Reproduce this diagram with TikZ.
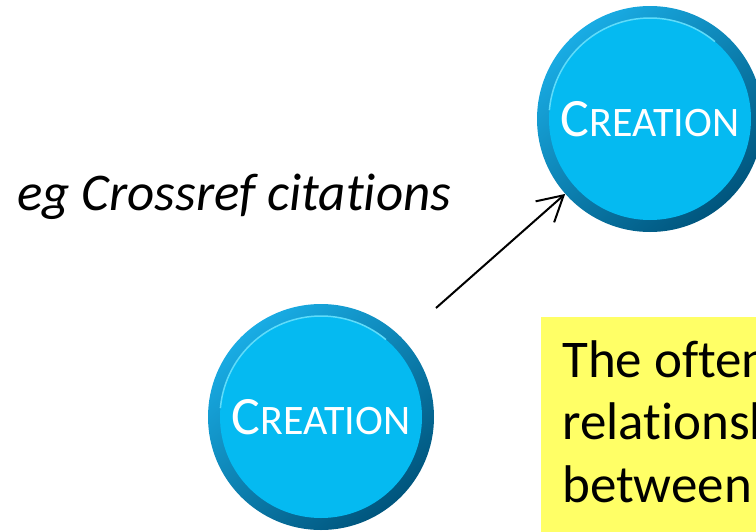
\documentclass[tikz,border=0pt]{standalone}
\usepackage{fontspec}
\setmainfont[Ligatures={NoCommon}]{Carlito}
\usetikzlibrary{arrows.meta}
\definecolor{face}{RGB}{5,186,241}
\definecolor{rimtop}{RGB}{25,172,228}
\definecolor{rimmid}{RGB}{10,150,205}
\definecolor{rimdark}{RGB}{0,85,125}
\definecolor{hilite}{RGB}{95,220,250}
\definecolor{note}{RGB}{255,255,102}
\tikzset{
  btn/.style={circle,minimum size=226pt,inner sep=0pt,
    shade,top color=rimtop,middle color=rimmid,bottom color=rimdark,shading angle=40},
  btnlbl/.style={text=white,inner sep=0pt,font=\fontsize{54}{54}\selectfont},
  conn/.style={line width=2pt,-{Straight Barb[length=25pt,width=28pt,line width=2pt]}},
  notetext/.style={anchor=base west,inner sep=0pt,font=\fontsize{53}{53}\selectfont},
}
\newcommand{\creation}{C{\fontsize{42}{42}\selectfont REATION}}
\begin{document}
\begin{tikzpicture}[x=1pt,y=-1pt]
\useasboundingbox (0,0) rectangle (756,531);
\clip (0,0) rectangle (756,531);
% yellow note
\fill[note] (541,317) rectangle (760,535);
\node[notetext] (n1) at (562,377) {The often};
\node[notetext] (n2) at (562,439) {relationsh};
\node[notetext] (n3) at (562,502) {between};
% buttons
\node[btn] (c1) at (650,119) {};
\fill[face] (c1.center) circle (101pt);
\draw[hilite,line width=1.5pt] (c1.center) ++(50:101pt) arc (50:175:101pt);
\node[btnlbl] (t1) at (c1.center) {\creation};
\node[btn] (c2) at (321,417) {};
\fill[face] (c2.center) circle (101pt);
\draw[hilite,line width=1.5pt] (c2.center) ++(50:101pt) arc (50:175:101pt);
\node[btnlbl] (t2) at (c2.center) {\creation};
% label
\node[anchor=base west,inner sep=0pt,font=\fontsize{53}{53}\selectfont\itshape] (lab) at (17,210) {eg Crossref citations};
% arrow
\coordinate (s) at (436,308);
\draw[conn] (s) -- (c1);
\end{tikzpicture}
\end{document}
